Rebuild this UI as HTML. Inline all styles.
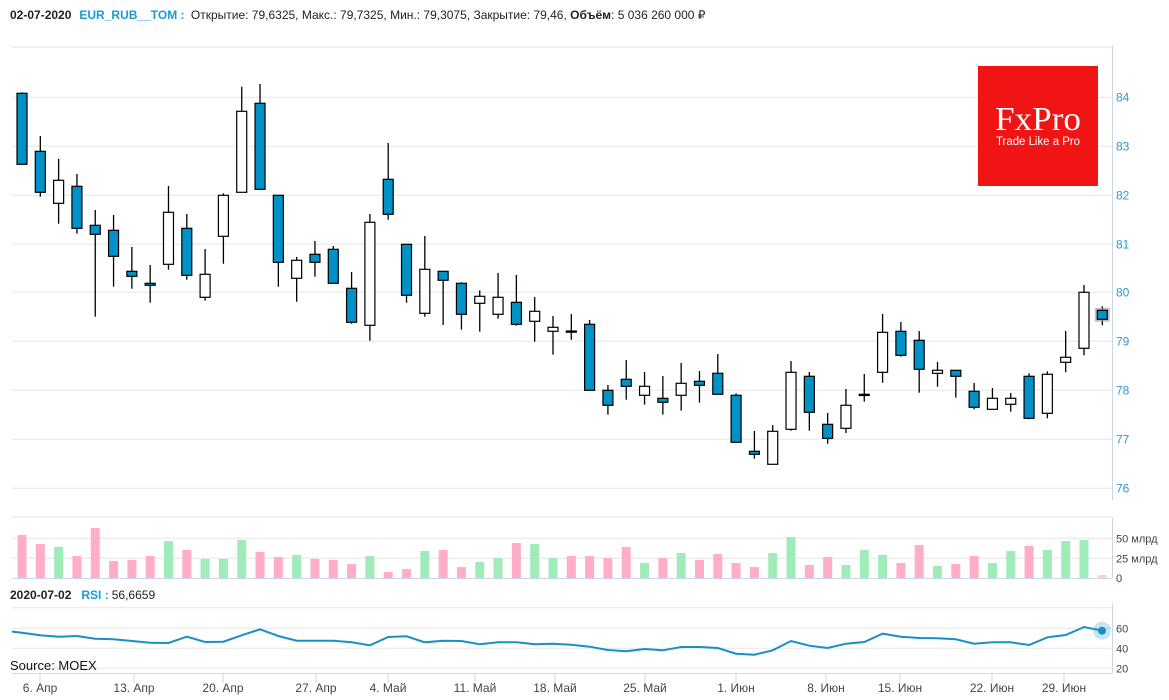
<!DOCTYPE html>
<html><head><meta charset="utf-8">
<style>
html,body{margin:0;padding:0;background:#fff;}
svg{display:block;font-family:"Liberation Sans",sans-serif;}
</style></head>
<body>
<svg id="s" width="1169" height="700" viewBox="0 0 1169 700" xmlns="http://www.w3.org/2000/svg">
<text x="10" y="19" font-size="12" fill="#222"><tspan font-weight="bold">02-07-2020</tspan><tspan dx="8" fill="#1a9bd7" font-weight="bold">EUR_RUB__TOM :</tspan><tspan dx="3"> Открытие: 79,6325, Макс.: 79,7325, Мин.: 79,3075, Закрытие: 79,46, </tspan><tspan font-weight="bold">Объём</tspan><tspan>: 5 036 260 000 ₽</tspan></text>
<g id="grid" stroke="#e6e6e6" stroke-width="1"></g>
<line x1="1112.5" y1="45" x2="1112.5" y2="500" stroke="#c8d6e6"/>
<line x1="1112.5" y1="517" x2="1112.5" y2="578" stroke="#c8d6e6"/>
<line x1="1112.5" y1="603" x2="1112.5" y2="673" stroke="#c8d6e6"/>
<line x1="12" y1="578.5" x2="1112" y2="578.5" stroke="#ccd6eb"/>
<line x1="12" y1="673.5" x2="1112" y2="673.5" stroke="#ccd6eb"/>
<rect x="978" y="66" width="120" height="120" fill="#f01414"/>
<text x="1038" y="130" text-anchor="middle" font-family="Liberation Serif,serif" font-size="34" fill="#fff" textLength="86" lengthAdjust="spacingAndGlyphs">FxPro</text>
<text x="1038" y="145" text-anchor="middle" font-size="11.5" fill="#fff" textLength="84" lengthAdjust="spacingAndGlyphs">Trade Like a Pro</text>
<g id="vol"></g>
<g id="cand"></g>
<g id="lab" font-size="12"></g>
<text x="10" y="599" font-size="12" fill="#222"><tspan font-weight="bold">2020-07-02</tspan><tspan dx="10" fill="#1a9bd7" font-weight="bold">RSI :</tspan><tspan dx="3">56,6659</tspan></text>
<polyline id="rsi" fill="none" stroke="#1a8fc4" stroke-width="2"/>
<circle cx="1102" cy="630.7" r="9" fill="#1a9bd7" opacity="0.25"/>
<circle cx="1102" cy="630.7" r="4" fill="#1a8fc4"/>
<text x="10" y="670" font-size="13" fill="#111">Source: MOEX</text>
</svg>
<script>
var NS="http://www.w3.org/2000/svg";
function el(p,t,a,txt){var e=document.createElementNS(NS,t);for(var k in a)e.setAttribute(k,a[k]);if(txt!==undefined)e.textContent=txt;document.getElementById(p).appendChild(e);return e;}
var gy=[47,97.3,146.3,195.3,244.3,292.3,341.3,390.3,439.3,488.3,517,538.3,558.3,607.7,628.3,648.3,668.3];
gy.forEach(function(y){el('grid','line',{x1:12,x2:1112,y1:y,y2:y});});
var pl=[[84,97.3],[83,146.3],[82,195.3],[81,244.3],[80,292.3],[79,341.3],[78,390.3],[77,439.3],[76,488.3]];
pl.forEach(function(p){el('lab','text',{x:1116,y:p[1]+4,fill:'#2a9ad6','font-size':12},p[0]);});
[["50 млрд",538.3],["25 млрд",558.3],["0",578]].forEach(function(p){el('lab','text',{x:1116,y:p[1]+4,fill:'#444','font-size':11},p[0]);});
[["60",628.3],["40",648.3],["20",668.3]].forEach(function(p){el('lab','text',{x:1116,y:p[1]+4,fill:'#444','font-size':11},p[0]);});
var xl=[["6. Апр",40],["13. Апр",134],["20. Апр",223],["27. Апр",316],["4. Май",388],["11. Май",475],["18. Май",555],["25. Май",645],["1. Июн",736],["8. Июн",826],["15. Июн",900],["22. Июн",992],["29. Июн",1064]];
xl.forEach(function(p){el('lab','line',{x1:p[1],x2:p[1],y1:673,y2:683,stroke:'#ccd6eb'});el('lab','text',{x:p[1],y:692,'text-anchor':'middle',fill:'#444','font-size':12},p[0]);});
var C=[
[93.3,164.3,92.3,164.3,1],[151.3,192.3,136,196.7,1],[180.3,203.3,159,223.7,0],[186.3,228.3,174,233.7,1],[225.3,234.3,210,316.7,1],
[230.3,256.3,215,286.7,1],[271.3,276.3,247,288.7,1],[283.3,285.3,265,302.7,1],[212.3,264.3,186,269.7,0],[228.3,275.3,214,279.7,1],
[274.3,297.3,249,300.7,0],[195.3,236.3,193.3,263.7,0],[111.3,192.3,86.7,192.3,0],[103.3,189.3,84,189.3,1],[195.3,262.3,195.3,286.7,1],
[260.3,278.3,257,301.7,0],[254.3,262.3,241,276.7,1],[249.3,283.3,246,283.3,1],[288.3,322.3,272,323.7,1],[222.3,325.3,214,340.7,0],
[179.3,214.3,143,219.7,1],[244.3,295.3,244.3,302.7,1],[269.3,313.3,236,316.7,0],[271.3,280.3,271.3,325,1],[283.3,314.3,282.3,329.7,1],
[296.3,303.3,290.3,331.7,0],[297.3,314.3,273,318.7,0],[302.3,324.3,275,325.7,1],[311.3,321.3,297,341.7,0],[327.3,331.3,316,354.7,0],
[331,332,314,339.7,1],[324.3,390.3,320,390.3,1],[390.3,405.3,385,414.7,1],[379.3,386.3,360,399.7,1],[386.3,395.3,372,404.7,0],
[398.3,402.3,376,414.7,1],[383.3,395.3,363,410.7,0],[381.3,385.3,371,402.7,1],[373.3,394.3,354,394.3,1],[395.3,442.3,393.3,442.3,1],
[451.3,454.3,431,458.7,1],[431.3,464.3,425,464.3,0],[372.3,429.3,361,430.7,0],[376.3,412.3,372,430.7,1],[424.3,438.3,413,443.7,1],
[405.3,428.3,389,433,0],[394.3,395.3,374,401.7,1],[332.3,372.3,314,382.7,0],[331.3,355.3,322,356.7,1],[340.3,369.3,331,392.7,1],
[370.3,373.3,362,386.7,0],[370.3,376.3,370.3,397.7,1],[391.3,407.3,383,409.3,1],[398.3,409.3,388,409.3,0],[398.3,404.3,393,411.7,0],
[376.3,418.3,373.3,419.3,1],[374.3,413.3,371.3,418.3,0],[357.3,362.3,331,372.3,0],[292.3,348.3,285,355.3,0],[310.3,319.3,306.3,325.3,1]];
var X0=22,DX=(1102.3-22)/59;
C.forEach(function(c,i){var x=X0+i*DX;
 el('cand','line',{x1:x,x2:x,y1:c[2],y2:c[3],stroke:'#000','stroke-width':1.3});
 if(i==59) el('cand','rect',{x:x-6.5,y:c[0]-1.5,width:13,height:c[1]-c[0]+3,fill:'none',stroke:'#999','stroke-width':2,opacity:0.6});
 var h=Math.max(c[1]-c[0],1.2);
 el('cand','rect',{x:x-5,y:c[0],width:10,height:h,fill:c[4]?'#0092c7':'#fff',stroke:'#000','stroke-width':1.2});
});
var V=[[535,'p'],[544,'p'],[547,'g'],[556,'p'],[528,'p'],[561,'p'],[560,'p'],[556,'p'],[541,'g'],[550,'p'],[559,'g'],[559,'g'],[540,'g'],[552,'p'],[557,'p'],[555,'g'],[559,'p'],[560,'p'],[564,'p'],[556,'g'],[572,'p'],[569,'p'],[551,'g'],[550,'p'],[567,'p'],[562,'g'],[558,'g'],[543,'p'],[544,'g'],[558,'g'],[556,'p'],
[556,'p'],[558,'p'],[547,'p'],[563,'g'],[558,'p'],[553,'g'],[560,'p'],[554,'p'],[563,'p'],[567,'p'],[553,'g'],[537,'g'],[565,'p'],[557,'p'],[565,'g'],[550,'g'],[555,'g'],[563,'p'],[545,'p'],[566,'g'],[564,'p'],[556,'p'],[563,'g'],[551,'g'],[546,'p'],[550,'g'],[541,'g'],[540,'g'],[575,'l']];
var col={p:'#ffadc9',g:'#9fecb9',l:'#ffcde0'};
V.forEach(function(v,i){var x=X0+i*DX;el('vol','rect',{x:x-4.5,y:v[0],width:9,height:578-v[0],fill:col[v[1]]});});
var R=[368,376,380,378,386,388,393,398,399,380,396,395,376,358,378,392,392,392,397,406,381,379,397,392,393,403,397,397,403,401,404,
410,420,424,417,421,411,411,414,431,434,421,393,407,414,401,396,371,380,384,385,388,401,397,397,405,382,375,351,362];
var pts=["12,"+(510+365/3)];
R.forEach(function(v,i){pts.push((X0+i*DX).toFixed(1)+","+(510+v/3).toFixed(1));});
document.getElementById('rsi').setAttribute('points',pts.join(' '));
</script>
</body></html>
